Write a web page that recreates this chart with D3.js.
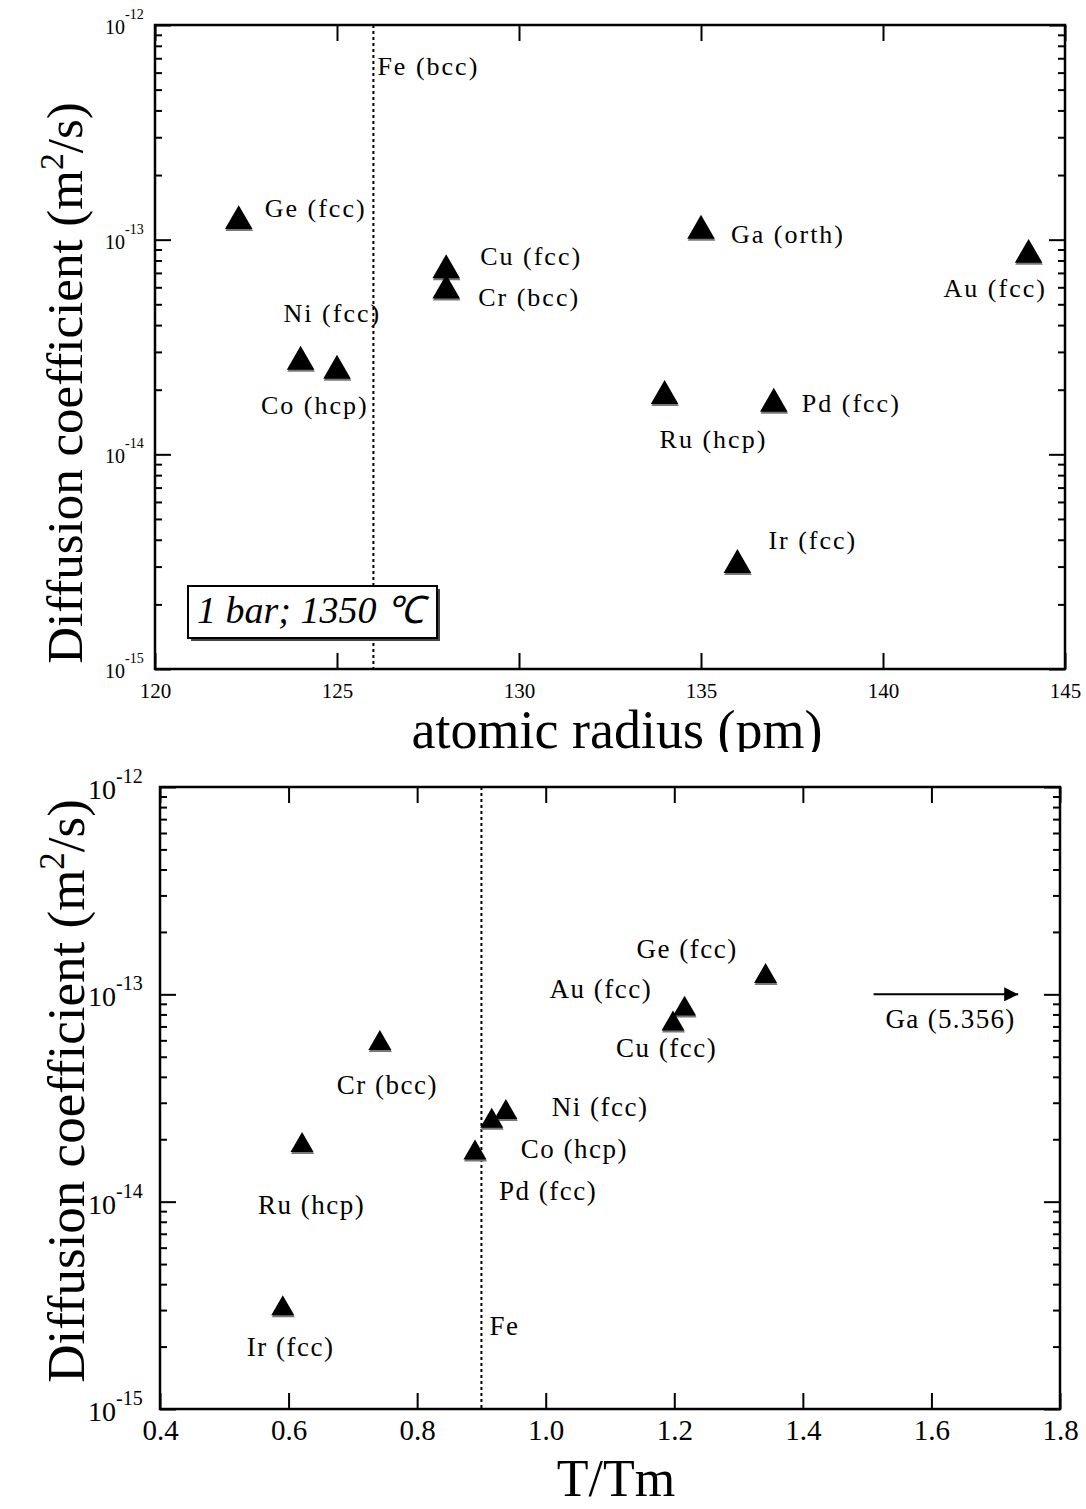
<!DOCTYPE html>
<html>
<head>
<meta charset="utf-8">
<script src="https://cdn.jsdelivr.net/npm/d3@7"></script>
<style>
  body { margin: 0; background: #fff; }
  text { font-family: "Liberation Serif", "Times New Roman", serif; fill: #000; }
</style>
</head>
<body>
<div id="chart"></div>
<script>
// element data
var elements = ["Ge", "Ni", "Co", "Cu", "Cr", "Ga", "Au", "Ru", "Pd", "Ir"];
var structures = ["fcc", "fcc", "hcp", "fcc", "bcc", "orth", "fcc", "hcp", "fcc", "fcc"];
var radius = [122.3, 124, 125, 128, 128, 135, 144, 134, 137, 136];           // pm
var diffusion = [1.22e-13, 2.7e-14, 2.45e-14, 7.2e-14, 5.8e-14, 1.1e-13, 8.5e-14, 1.87e-14, 1.72e-14, 3.05e-15]; // m2/s
var tTm = [1.342, 0.938, 0.916, 1.198, 0.742, null, 1.216, 0.621, 0.89, 0.591];
var gaArrow = {from: 1.51, to: 1.735, D: 1.0e-13, label: "Ga (5.356)"};
var feRadius = 126, feTTm = 0.9;

var radiusTicks = [120, 125, 130, 135, 140, 145];
var tTmTicks = [0.4, 0.6, 0.8, 1.0, 1.2, 1.4, 1.6, 1.8];
var decades = [-15, -14, -13, -12];

// label offsets in px from each point (layout only)
var topOffsets = [[26, -4], [-17, -40], [-76, 43], [34, -5], [32, 16], [30, 12], [-85, 42], [-5, 52], [28, 8], [31, -16]];
var botOffsets = [[-129, -18], [46, 4], [29, 37], [-57, 33], [-43, 51], null, [-135, -11], [-44, 69], [24, 47], [-36, 47]];

var W = 1086, H = 1509;
var svg = d3.select("#chart").append("svg").attr("width", W).attr("height", H);

var defs = svg.append("defs");
defs.append("clipPath").attr("id", "topclip")
    .append("rect").attr("x", 0).attr("y", 0).attr("width", W).attr("height", 752);
defs.append("marker")
    .attr("id", "arrow")
    .attr("viewBox", "0 -5 10 10")
    .attr("refX", 10).attr("refY", 0)
    .attr("markerUnits", "userSpaceOnUse")
    .attr("markerWidth", 24).attr("markerHeight", 14)
    .attr("orient", "auto")
  .append("path").attr("d", "M0,-5L10,0L0,5Z").attr("fill", "#000");

function panel(g, o) {
  var x = d3.scaleLinear().domain(o.xdom).range([o.left, o.right]);
  var y = d3.scaleLog().domain([1e-15, 1e-12]).range([o.bottom, o.top]);
  var minor = y.ticks().filter(function(v) { return Math.abs(Math.log10(v) - Math.round(Math.log10(v))) > 1e-6; });
  var major = decades.map(function(d) { return Math.pow(10, d); });

  function style(sel) {
    sel.select(".domain").remove();
    sel.selectAll(".tick line").attr("stroke", "#000").attr("stroke-width", 2);
  }
  // x axes
  g.append("g").attr("transform", "translate(0," + o.bottom + ")")
    .call(d3.axisBottom(x).tickValues(o.xticks).tickSize(-o.major).tickPadding(o.xpad).tickFormat(o.xfmt))
    .call(style)
    .selectAll("text").style("font-size", o.tickFs + "px").style("font-family", "Liberation Serif");
  g.append("g").attr("transform", "translate(0," + o.top + ")")
    .call(d3.axisTop(x).tickValues(o.xticks).tickSize(-o.major).tickFormat(""))
    .call(style);
  // y axes
  [["L", o.left], ["R", o.right]].forEach(function(s) {
    var ax = s[0] == "L" ? d3.axisLeft : d3.axisRight;
    g.append("g").attr("transform", "translate(" + s[1] + ",0)")
      .call(ax(y).tickValues(major).tickSize(-o.major).tickFormat("")).call(style);
    g.append("g").attr("transform", "translate(" + s[1] + ",0)")
      .call(ax(y).tickValues(minor).tickSize(-7).tickFormat("")).call(style);
  });
  // frame
  g.append("rect").attr("x", o.left).attr("y", o.top)
    .attr("width", o.right - o.left).attr("height", o.bottom - o.top)
    .attr("fill", "none").attr("stroke", "#000").attr("stroke-width", 2.5);

  // y tick labels 10^n
  decades.forEach(function(d) {
    var t = g.append("text").attr("x", o.left - o.ylx).attr("y", y(Math.pow(10, d)) + o.ybase)
      .attr("text-anchor", "start").style("font-size", o.yFs + "px");
    t.append("tspan").text("10");
    t.append("tspan").attr("dy", -o.supRise).style("font-size", o.supFs + "px").text(String(d));
  });

  // y title
  var yt = g.append("text")
    .attr("transform", "translate(" + o.ytx + "," + o.yty + ") rotate(-90)")
    .attr("text-anchor", "middle").style("font-size", o.ytFs + "px");
  yt.append("tspan").text("Diffusion coefficient (m");
  yt.append("tspan").attr("dy", -o.ytFs * 0.38).style("font-size", (o.ytFs * 0.66) + "px").text("2");
  yt.append("tspan").attr("dy", o.ytFs * 0.38).text("/s)");

  // x title
  g.append("text").attr("x", (o.left + o.right) / 2 + o.xtdx).attr("y", o.xty)
    .attr("text-anchor", "middle").style("font-size", o.xtFs + "px").text(o.xtitle);

  // Fe dotted line
  g.append("line").attr("x1", x(o.fe)).attr("x2", x(o.fe)).attr("y1", o.top).attr("y2", o.bottom)
    .attr("stroke", "#000").attr("stroke-width", 2).attr("stroke-dasharray", "3,3");
  g.append("text").attr("x", x(o.fe) + o.feLabel[0]).attr("y", o.feLabel[1])
    .style("font-size", o.labFs + "px").style("letter-spacing", o.ls + "px").text(o.feText);

  // points
  var pts = elements.map(function(e, i) {
    return {name: e + " (" + structures[i] + ")", x: o.xs[i], D: diffusion[i], off: o.offs[i]};
  }).filter(function(d) { return d.x != null; });
  var tri = d3.symbol().type(d3.symbolTriangle).size(o.triSize);
  var pg = g.append("g");
  pg.selectAll("path.sh").data(pts).enter().append("path")
    .attr("transform", function(d) { return "translate(" + (x(d.x) + 0.5) + "," + (y(d.D) + 2) + ")"; })
    .attr("d", tri).attr("fill", "#777");
  pg.selectAll("path.pt").data(pts).enter().append("path")
    .attr("transform", function(d) { return "translate(" + x(d.x) + "," + y(d.D) + ")"; })
    .attr("d", tri).attr("fill", "#000");
  pg.selectAll("text").data(pts).enter().append("text")
    .attr("x", function(d) { return x(d.x) + d.off[0]; })
    .attr("y", function(d) { return y(d.D) + d.off[1]; })
    .style("font-size", o.labFs + "px").style("letter-spacing", o.ls + "px")
    .text(function(d) { return d.name; });
  return {x: x, y: y};
}

// top panel: atomic radius
var gTop = svg.append("g").attr("clip-path", "url(#topclip)");
panel(gTop, {
  xdom: [120, 145], left: 155, right: 1065, top: 25, bottom: 669,
  xticks: radiusTicks, xfmt: d3.format("d"), xpad: 14, tickFs: 21, major: 16,
  ylx: 50, ybase: 9, yFs: 20, supFs: 14, supRise: 15,
  ytx: 82, yty: 383, ytFs: 51,
  xtitle: "atomic radius (pm)", xty: 748, xtFs: 54, xtdx: 7,
  fe: feRadius, feText: "Fe (bcc)", feLabel: [4, 75],
  xs: radius, offs: topOffsets, triSize: 330, labFs: 26, ls: 2
});

// label box
var bx = svg.append("g");
bx.append("rect").attr("x", 191).attr("y", 589).attr("width", 249).attr("height", 52).attr("fill", "#444");
bx.append("rect").attr("x", 188).attr("y", 586).attr("width", 249).attr("height", 52)
  .attr("fill", "#fff").attr("stroke", "#000").attr("stroke-width", 2);
bx.append("text").attr("x", 197).attr("y", 623).style("font-size", "38px").style("font-style", "italic")
  .text("1 bar; 1350 ℃");

// bottom panel: T/Tm
var gBot = svg.append("g");
var b = panel(gBot, {
  xdom: [0.4, 1.8], left: 160, right: 1060, top: 787, bottom: 1409,
  xticks: tTmTicks, xfmt: d3.format(".1f"), xpad: 10, tickFs: 29, major: 16,
  ylx: 72, ybase: 12, yFs: 28, supFs: 20, supRise: 16,
  ytx: 84, yty: 1091, ytFs: 53,
  xtitle: "T/Tm", xty: 1496, xtFs: 52, xtdx: 6,
  fe: feTTm, feText: "Fe", feLabel: [8, 1335],
  xs: tTm, offs: botOffsets, triSize: 230, labFs: 27, ls: 1.5
});

// Ga arrow (off the chart)
gBot.append("line")
  .attr("x1", b.x(gaArrow.from)).attr("x2", b.x(gaArrow.to))
  .attr("y1", b.y(gaArrow.D)).attr("y2", b.y(gaArrow.D))
  .attr("stroke", "#000").attr("stroke-width", 2).attr("marker-end", "url(#arrow)");
gBot.append("text").attr("x", b.x(gaArrow.from) + 12).attr("y", b.y(gaArrow.D) + 34)
  .style("font-size", "27px").style("letter-spacing", "1.3px").text(gaArrow.label);
</script>
</body>
</html>
